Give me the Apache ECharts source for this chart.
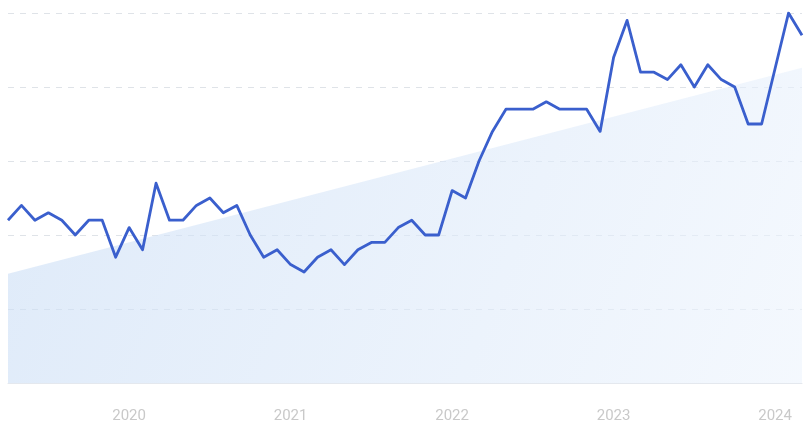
<!DOCTYPE html>
<html>
<head>
<meta charset="utf-8">
<script src="https://cdn.jsdelivr.net/npm/echarts@6/dist/echarts.min.js"></script>
<style>
html,body{margin:0;padding:0;background:#fff;}
#c{width:807px;height:425px;}
</style>
</head>
<body>
<div id="c"></div>
<script>
// Monthly categories: Apr 2019 .. Mar 2024
var months = ["2019-04","2019-05","2019-06","2019-07","2019-08","2019-09","2019-10","2019-11","2019-12",
"2020-01","2020-02","2020-03","2020-04","2020-05","2020-06","2020-07","2020-08","2020-09","2020-10","2020-11","2020-12",
"2021-01","2021-02","2021-03","2021-04","2021-05","2021-06","2021-07","2021-08","2021-09","2021-10","2021-11","2021-12",
"2022-01","2022-02","2022-03","2022-04","2022-05","2022-06","2022-07","2022-08","2022-09","2022-10","2022-11","2022-12",
"2023-01","2023-02","2023-03","2023-04","2023-05","2023-06","2023-07","2023-08","2023-09","2023-10","2023-11","2023-12",
"2024-01","2024-02","2024-03"];
var interest = [44,48,44,46,44,40,44,44,34,42,36,54,44,44,48,50,46,48,40,34,36,32,30,34,36,32,36,38,38,42,44,40,40,52,50,60,68,74,74,74,76,74,74,74,68,88,98,84,84,82,86,80,86,82,80,70,70,85,100,94];
// Trend band endpoints [monthIndex, value]
var trendStart = [0, 29.5];
var trendEnd = [59, 85.2];
var yTicks = {min: 0, max: 100, interval: 20};

var chart = echarts.init(document.getElementById('c'), null, {renderer: 'canvas'});
chart.setOption({
  animation: false,
  grid: {left: 8, right: 5, top: 13, bottom: 42, containLabel: false},
  xAxis: {
    type: 'category',
    data: months,
    boundaryGap: false,
    axisLine: {show: true, lineStyle: {color: '#e4e8ee', width: 1}},
    axisTick: {show: false},
    splitLine: {show: false},
    axisLabel: {
      interval: function (i, v) { return v.slice(5) === '01'; },
      formatter: function (v) { return v.slice(0, 4); },
      color: '#c9c9c9',
      fontSize: 15,
      fontFamily: 'Roboto',
      margin: 26
    }
  },
  yAxis: {
    type: 'value',
    min: yTicks.min, max: yTicks.max, interval: yTicks.interval,
    axisLine: {show: false},
    axisTick: {show: false},
    axisLabel: {show: false},
    splitLine: {show: true, lineStyle: {color: '#dfe3e8', type: [6, 6], width: 1}}
  },
  series: [
    {
      type: 'line',
      data: [trendStart, trendEnd],
      symbol: 'none',
      lineStyle: {width: 0},
      z: 1,
      areaStyle: {
        opacity: 1,
        color: new echarts.graphic.LinearGradient(0, 0, 1, 1, [
          {offset: 0, color: 'rgba(200,220,245,0.6)'},
          {offset: 1, color: 'rgba(237,244,253,0.6)'}
        ])
      }
    },
    {
      type: 'line',
      data: interest,
      symbol: 'none',
      z: 3,
      lineStyle: {color: '#3a5fcd', width: 2.8, join: 'round'}
    }
  ]
});
</script>
</body>
</html>
